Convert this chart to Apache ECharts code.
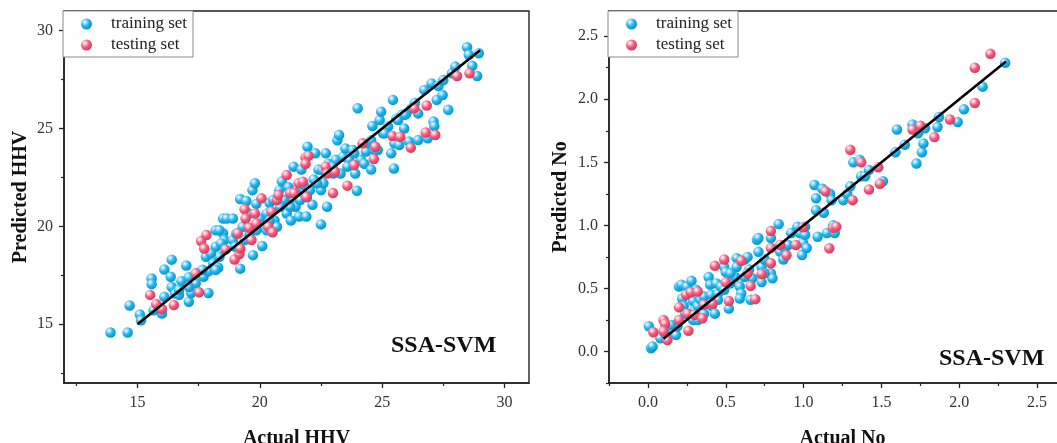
<!DOCTYPE html>
<html>
<head>
<meta charset="utf-8">
<script src="https://cdn.jsdelivr.net/npm/echarts@6/dist/echarts.min.js"></script>
<style>
html,body{margin:0;padding:0;background:#fff;}
#c{width:1057px;height:443px;}
</style>
</head>
<body>
<div id="c"></div>
<script>
// ---------- DATA ----------
const seriesNames = ['training set', 'testing set'];
const modelLabel = 'SSA-SVM';

// Left panel: HHV [actual, predicted]
const hhvTrain = [
[13.9,14.58],[14.6,14.58],[14.68,15.96],[15.1,15.5],[15.15,15.2],[15.58,17.34],[15.58,17.05],[16.1,17.8],[16.1,16.4],[16.0,15.55],
[16.4,18.3],[16.36,17.43],[16.4,16.9],[16.55,16.57],[16.7,16.5],[16.8,17.2],[17.0,18.0],[17.1,17.4],[17.1,16.15],[17.2,16.6],
[17.4,17.6],[17.7,17.43],[17.8,18.45],[17.9,16.6],[17.9,17.7],[18.1,18.1],[18.2,18.96],[18.2,19.8],[18.3,17.9],[18.5,19.65],
[18.5,20.4],[18.65,20.4],[18.55,19.3],[18.35,18.45],[18.9,20.4],[18.9,19.3],[19.0,18.96],[19.2,21.4],[19.2,17.84],[19.3,19.98],
[19.45,21.3],[19.56,20.66],[19.7,21.85],[19.8,22.2],[19.72,18.53],[19.86,21.15],[20.0,20.4],[20.1,19.0],[20.14,19.98],[20.28,20.66],
[20.4,21.2],[20.55,21.35],[20.6,20.3],[20.7,19.98],[20.8,21.85],[20.9,22.3],[21.0,21.35],[21.1,20.66],[21.17,22.0],[21.27,20.3],
[21.38,23.05],[21.4,21.35],[21.46,21.0],[21.5,21.7],[21.6,20.5],[21.7,22.9],[21.8,22.1],[21.9,20.5],[21.95,24.07],[22.05,21.85],
[22.15,21.1],[22.2,22.4],[22.27,23.73],[22.4,22.9],[22.5,21.85],[22.5,20.1],[22.6,22.2],[22.7,23.73],[22.75,21.0],[22.8,23.2],
[23.0,22.7],[23.1,23.4],[23.17,24.4],[23.24,24.67],[23.3,22.7],[23.4,23.56],[23.5,23.98],[23.65,23.4],[23.8,23.9],[23.9,22.7],
[23.97,21.82],[24.0,26.03],[24.13,23.4],[24.27,23.2],[24.34,23.82],[24.48,24.24],[24.55,22.9],[24.6,25.13],[24.68,23.9],[24.82,23.9],
[24.9,25.43],[24.96,25.86],[25.03,24.75],[25.24,25.1],[25.37,23.73],[25.44,26.46],[25.48,22.96],[25.5,24.24],[25.58,25.5],[25.7,24.16],
[25.8,25.7],[25.9,25.0],[25.99,25.77],[26.1,24.33],[26.2,26.03],[26.47,24.41],[26.47,25.77],[26.72,26.97],[26.86,24.5],[27.02,27.3],
[27.1,25.35],[27.13,25.13],[27.23,26.46],[27.3,27.17],[27.47,26.71],[27.5,27.48],[27.7,25.95],[27.85,27.82],[27.99,28.16],[28.47,29.15],
[28.68,28.2],[28.88,27.68],[28.95,28.84],[28.54,28.76],
[19.04,19.64],[19.38,19.3],[19.59,19.64],[19.86,19.8],[20.28,19.8],[20.41,20.3],[20.83,21.0],[21.24,21.0],[21.65,21.35],[21.93,21.5],
[22.34,22.2],[22.56,22.88],[22.96,23.05],[23.58,23.05],[23.86,23.73],[24.55,24.4],[25.1,24.75],[25.65,25.43],[25.93,25.7],[26.34,26.3],
[17.38,17.08],[17.66,17.78],[18.0,18.62],[18.42,19.13],[17.1,16.9],[16.7,16.75],[15.8,15.8],[15.66,15.72],[18.35,19.8],[18.2,17.78]
];
const hhvTest = [
[15.52,16.5],[15.77,16.03],[16.0,15.78],[16.49,15.98],[17.38,17.6],[17.52,16.63],[17.6,19.25],[17.73,18.87],[17.82,19.56],[18.6,18.82],
[18.97,18.31],[19.1,19.64],[19.17,18.59],[19.2,18.87],[19.38,20.87],[19.42,20.4],[19.56,19.93],[19.66,19.3],[19.8,20.66],[19.86,20.15],
[20.07,21.43],[20.34,19.98],[20.52,19.7],[20.48,20.75],[20.7,21.35],[20.76,21.6],[21.1,22.62],[21.24,21.7],[21.4,21.7],[21.58,22.2],
[21.76,22.28],[21.9,21.5],[21.87,23.52],[21.99,23.6],[21.87,23.2],[22.69,23.05],[22.75,22.7],[22.99,21.7],[23.07,22.8],[23.58,22.08],
[23.86,23.13],[24.2,24.24],[24.72,24.07],[24.66,23.44],[25.42,24.62],[25.74,24.58],[26.17,24.02],[26.31,26.03],[26.82,26.17],[26.78,24.79],
[27.17,24.67],[28.06,27.68],[28.57,27.82]
];
const hhvFit = [[15,15],[29,29]];

// Right panel: No [actual, predicted]
const noTrain = [
[0.006,0.20],[0.02,0.026],[0.03,0.04],[0.08,0.105],[0.11,0.145],[0.17,0.145],[0.18,0.13],[0.19,0.2],[0.2,0.515],[0.215,0.53],
[0.22,0.42],[0.23,0.36],[0.24,0.3],[0.25,0.515],[0.265,0.46],[0.28,0.56],[0.29,0.4],[0.3,0.33],[0.31,0.49],[0.32,0.36],
[0.29,0.25],[0.34,0.41],[0.36,0.435],[0.39,0.59],[0.4,0.53],[0.405,0.45],[0.41,0.36],[0.43,0.3],[0.44,0.54],[0.45,0.46],
[0.47,0.515],[0.49,0.67],[0.5,0.63],[0.52,0.34],[0.53,0.54],[0.56,0.59],[0.57,0.74],[0.57,0.67],[0.59,0.515],[0.6,0.46],
[0.59,0.42],[0.62,0.73],[0.64,0.75],[0.65,0.65],[0.66,0.41],[0.67,0.58],[0.7,0.885],[0.71,0.9],[0.71,0.79],[0.73,0.55],
[0.73,0.67],[0.75,0.73],[0.79,0.62],[0.8,0.58],[0.79,0.9],[0.84,1.01],[0.85,0.79],[0.87,0.73],[0.88,0.82],[0.9,0.845],
[0.92,0.94],[0.96,0.99],[0.975,0.94],[0.99,0.765],[0.997,0.86],[1.01,0.925],[1.02,0.82],[1.01,0.99],[1.07,1.32],[1.08,1.215],
[1.08,1.12],[1.09,0.91],[1.12,1.29],[1.13,1.1],[1.15,0.94],[1.17,1.25],[1.18,1.2],[1.19,1.0],[1.2,0.94],[1.255,1.2],
[1.28,1.25],[1.3,1.31],[1.32,1.5],[1.36,1.52],[1.37,1.39],[1.395,1.39],[1.42,1.44],[1.51,1.35],[1.59,1.58],[1.6,1.76],
[1.65,1.64],[1.7,1.8],[1.725,1.49],[1.735,1.73],[1.76,1.58],[1.77,1.65],[1.78,1.77],[1.86,1.78],[1.87,1.86],[1.99,1.82],
[2.03,1.92],[2.15,2.1],[2.295,2.29],
[0.15,0.21],[0.32,0.25],[0.36,0.3],[0.45,0.41],[0.49,0.49],[0.53,0.62],[0.62,0.59],[0.75,0.62]
];
const noTest = [
[0.035,0.153],[0.1,0.25],[0.11,0.22],[0.1,0.16],[0.125,0.09],[0.2,0.35],[0.2,0.25],[0.245,0.45],[0.255,0.3],[0.26,0.164],
[0.275,0.47],[0.3,0.29],[0.32,0.475],[0.35,0.264],[0.36,0.37],[0.415,0.38],[0.43,0.68],[0.49,0.73],[0.5,0.55],[0.52,0.4],
[0.6,0.72],[0.64,0.62],[0.66,0.52],[0.69,0.415],[0.73,0.615],[0.79,0.955],[0.79,0.7],[0.79,0.82],[0.85,0.845],[0.89,0.763],
[0.95,0.845],[0.997,0.985],[1.14,1.27],[1.165,0.818],[1.19,0.98],[1.21,0.99],[1.3,1.6],[1.315,1.2],[1.37,1.5],[1.42,1.285],
[1.48,1.46],[1.49,1.33],[1.7,1.76],[1.75,1.79],[1.84,1.7],[1.94,1.84],[2.1,2.25],[2.1,1.97],[2.2,2.36]
];
const noFit = [[0.1,0.1],[2.3,2.3]];

// Tick values
const hhvMajor = [15, 20, 25, 30];
const hhvMinor = [12.5, 17.5, 22.5, 27.5];
const noXMajor = [0, 0.5, 1.0, 1.5, 2.0, 2.5];
const noXMinor = [-0.25, 0.25, 0.75, 1.25, 1.75, 2.25];
const noYMajor = [0, 0.5, 1.0, 1.5, 2.0, 2.5];
const noYMinor = [-0.25, 0.25, 0.75, 1.25, 1.75, 2.25];

// ---------- STYLE ----------
const SERIF = '"Liberation Serif", "Times New Roman", serif';
const AX = '#222';
function sphere(c0, c1, c2) {
  return {type:'radial', x:0.35, y:0.32, r:0.75, colorStops:[
    {offset:0, color:'#ffffff'}, {offset:0.18, color:c0}, {offset:0.5, color:c1}, {offset:1, color:c2}]};
}
const blueBall = sphere('#a8e4fb', '#20b5ee', '#0a8cc6');
const pinkBall = sphere('#ffc2d0', '#f25a7e', '#cf3559');

function mainAxis(kind, grid, min, max, major, fmt, name, nameGap) {
  return {
    type:'value', gridIndex:grid, min:min, max:max,
    position: kind==='x' ? 'bottom' : 'left',
    name:name, nameLocation:'middle', nameGap:nameGap,
    nameTextStyle:{fontFamily:SERIF, fontWeight:'bold', fontSize:20, color:'#111'},
    axisLine:{show:true, onZero:false, lineStyle:{color:AX, width:1.6}},
    axisTick:{show:true, inside:false, length:5, lineStyle:{color:AX, width:1.3}, customValues:major},
    axisLabel:{show:true, margin:kind==='x'?12:11, fontFamily:SERIF, fontSize:16, color:'#333',
      customValues:major, formatter:fmt},
    splitLine:{show:false}
  };
}
function minorAxis(kind, grid, min, max, minor) {
  return {
    type:'value', gridIndex:grid, min:min, max:max,
    position: kind==='x' ? 'bottom' : 'left', offset:0,
    axisLine:{show:false, onZero:false},
    axisTick:{show:true, inside:false, length:3, lineStyle:{color:AX, width:1.2}, customValues:minor},
    axisLabel:{show:false, customValues:minor},
    splitLine:{show:false}
  };
}
const f0 = v => String(Math.round(v));
const f1 = v => Number(v).toFixed(1);

function legendFor(left) {
  return {
    orient:'vertical', left:left, top:11,
    data:seriesNames,
    backgroundColor:'#fff', borderColor:'#8a8a8a', borderWidth:1,
    padding:[4, 6, 3, 18],
    itemWidth:11, itemHeight:11, itemGap:3,
    icon:'circle',
    textStyle:{fontFamily:SERIF, fontSize:17, color:'#222', lineHeight:18, padding:[0,0,0,14]}
  };
}

function scatter(name, data, xi, yi, color) {
  return {
    name:name, type:'scatter', xAxisIndex:xi, yAxisIndex:yi, data:data,
    symbol:'circle', symbolSize:10.5, itemStyle:{color:color, opacity:1},
    z:2
  };
}
function fit(data, xi, yi) {
  return {
    name:'fit', type:'line', xAxisIndex:xi, yAxisIndex:yi, data:data,
    showSymbol:false, symbol:'none', lineStyle:{color:'#000', width:2.6}, z:5, silent:true
  };
}

const option = {
  animation:false,
  backgroundColor:'#fff',
  grid:[
    {left:64, top:11, width:465, height:372, show:true, borderColor:AX, borderWidth:1.4, backgroundColor:'transparent',
     containLabel:false, outerBoundsMode:'none'},
    {left:609, top:11, width:467, height:372, show:true, borderColor:AX, borderWidth:1.4, backgroundColor:'transparent',
     containLabel:false, outerBoundsMode:'none'}
  ],
  xAxis:[
    mainAxis('x', 0, 12, 31, hhvMajor, f0, 'Actual HHV', 46),
    minorAxis('x', 0, 12, 31, hhvMinor),
    mainAxis('x', 1, -0.25, 2.75, noXMajor, f1, 'Actual No', 46),
    minorAxis('x', 1, -0.25, 2.75, noXMinor)
  ],
  yAxis:[
    mainAxis('y', 0, 12, 31, hhvMajor, f0, 'Predicted HHV', 33),
    minorAxis('y', 0, 12, 31, hhvMinor),
    mainAxis('y', 1, -0.25, 2.7, noYMajor, f1, 'Predicted No', 38),
    minorAxis('y', 1, -0.25, 2.7, noYMinor)
  ],
  legend:[legendFor(63), legendFor(608)],
  graphic:[
    {type:'text', left:391, top:334, z:10, style:{text:modelLabel, font:'bold 24px ' + SERIF, fill:'#111'}},
    {type:'text', left:939, top:347, z:10, style:{text:modelLabel, font:'bold 24px ' + SERIF, fill:'#111'}}
  ],
  series:[
    scatter(seriesNames[0], hhvTrain, 0, 0, blueBall),
    scatter(seriesNames[1], hhvTest, 0, 0, pinkBall),
    fit(hhvFit, 0, 0),
    scatter(seriesNames[0], noTrain, 2, 2, blueBall),
    scatter(seriesNames[1], noTest, 2, 2, pinkBall),
    fit(noFit, 2, 2)
  ]
};
const chart = echarts.init(document.getElementById('c'), null, {renderer:'canvas'});
chart.setOption(option);
</script>
</body>
</html>
